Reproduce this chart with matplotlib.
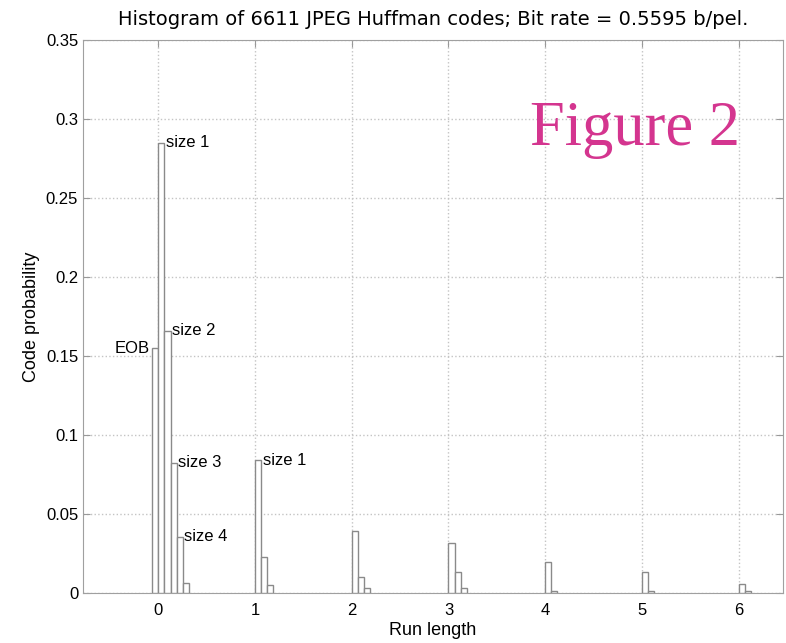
import matplotlib
matplotlib.use("Agg")
import matplotlib.pyplot as plt
import numpy as np

# probabilita' per (run, size); run 0 parte da size 0 = EOB
run_lengths = [0, 1, 2, 3, 4, 5, 6]
first_size = [0, 1, 1, 1, 1, 1, 1]
probs = [
    [0.155, 0.285, 0.166, 0.0825, 0.0357, 0.006],
    [0.084, 0.023, 0.005],
    [0.039, 0.010, 0.003],
    [0.0316, 0.013, 0.003],
    [0.0198, 0.0015],
    [0.0135, 0.0012],
    [0.0057, 0.0015],
]
labels = [(0, 0, 'EOB'), (0, 1, 'size 1'), (0, 2, 'size 2'),
          (0, 3, 'size 3'), (0, 4, 'size 4'), (1, 1, 'size 1')]

title = 'Histogram of 6611 JPEG Huffman codes; Bit rate = 0.5595 b/pel.'
width = 1 / 16

plt.rcParams['font.family'] = ['Liberation Sans', 'DejaVu Sans']
fig = plt.figure(figsize=(7.86, 6.43), dpi=100)
ax = fig.add_axes([0.1056, 0.0778, 0.8906, 0.86])

# barre vuote con bordo grigio
for r, s0, p in zip(run_lengths, first_size, probs):
    sizes = np.arange(s0, s0 + len(p))
    lefts = r + (sizes - 1) * width
    ax.bar(lefts, p, width=width, align='edge', facecolor='white',
           edgecolor='#8a8a8a', linewidth=1.0, zorder=3)

# etichette vicino alle barre
for r, s, txt in labels:
    val = probs[r][s - first_size[r]]
    left = r + (s - 1) * width
    if txt == 'EOB':
        ax.annotate(txt, (left, val), xytext=(-2, 0), textcoords='offset points',
                    ha='right', va='center', fontsize=12)
    else:
        ax.annotate(txt, (left + width, val), xytext=(1, 0), textcoords='offset points',
                    ha='left', va='center', fontsize=12)

ax.set_xlim(-0.78, 6.46)
ax.set_ylim(0, 0.35)
ax.set_xticks(run_lengths)
ax.set_yticks(np.arange(0, 0.351, 0.05))
ax.set_yticklabels(['0', '0.05', '0.1', '0.15', '0.2', '0.25', '0.3', '0.35'])
ax.tick_params(direction='in', top=True, right=True, labelsize=12,
               color='#999999', length=5)
ax.tick_params(axis='x', pad=7)
ax.grid(True, linestyle=':', color='#c4c4c4', linewidth=1.0, zorder=0)
for sp in ax.spines.values():
    sp.set_color('#a0a0a0')

ax.set_title(title, fontsize=14, pad=11, family='DejaVu Sans')
ax.set_xlabel('Run length', fontsize=13, labelpad=3)
ax.set_ylabel('Code probability', fontsize=13, labelpad=4)

fig.text(0.808, 0.798, 'Figure 2', fontsize=45, color='#d4358f',
         family='Liberation Serif', ha='center', va='center')

fig.savefig('out.png', dpi=100)
